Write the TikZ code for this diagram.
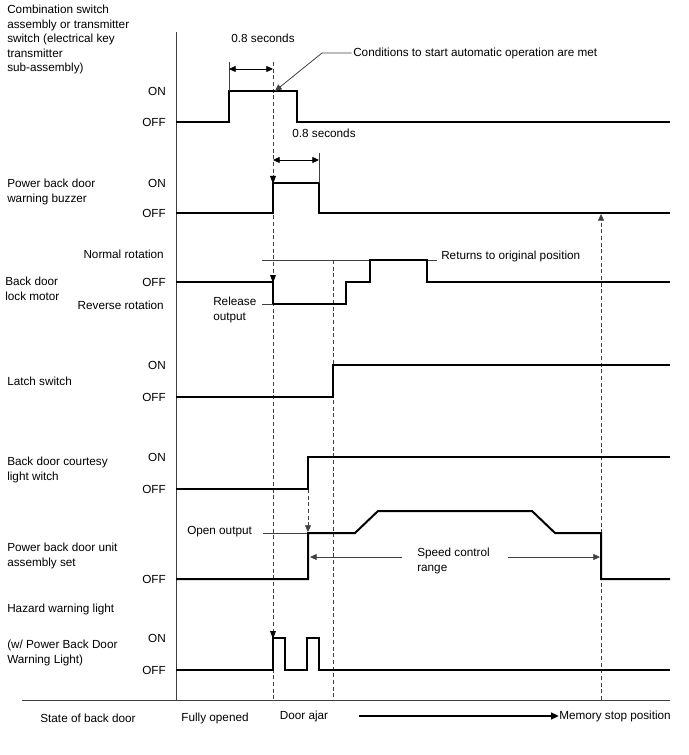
\documentclass[tikz,border=0pt]{standalone}
\usepackage{fontspec}
\setmainfont{Liberation Sans}
\usetikzlibrary{arrows.meta}
\begin{document}
\begin{tikzpicture}[x=0.75pt,y=-0.75pt,
  font=\fontsize{8.8}{10.9}\selectfont,
  sig/.style={line width=1.5pt, line join=miter},
  fine/.style={line width=0.6pt, black!75},
  guide/.style={line width=0.6pt, dash pattern=on 3pt off 2pt, black!75},
  tipd/.style={-{Triangle[length=5pt,width=4.5pt]}},
  dimarrow/.style={{Triangle[length=5pt,width=4.5pt]}-{Triangle[length=5pt,width=4.5pt]}, line width=0.6pt},
  lab/.style={anchor=west, align=left, inner sep=0pt},
  lvl/.style={anchor=east, inner sep=0pt}]
\useasboundingbox (0,0) rectangle (688,755);

% axes
\coordinate (axT) at (176,32);
\coordinate (axB) at (176,700);
\coordinate (baseL) at (22,700);
\coordinate (baseR) at (670,700);
\draw[fine] (axT) -- (axB);
\draw[fine] (baseL) -- (baseR);

% dashed guides
\coordinate (g1t) at (273,62);   \coordinate (g1b) at (273,700);
\coordinate (g2t) at (333,260);  \coordinate (g2b) at (333,700);
\coordinate (g3t) at (601,215);  \coordinate (g3b) at (601,700);
\draw[guide] (g1t) -- (g1b);
\draw[guide] (g2t) -- (g2b);
\draw[guide] (g3b) -- (g3t);
\draw[guide,tipd] (601,240) -- (601,214);
\draw[guide,tipd] (308,489) -- (308,532);
\fill (270,176) -- (276,176) -- (273,184) -- cycle;
\fill (270,275) -- (276,275) -- (273,283) -- cycle;
\fill (270,631) -- (276,631) -- (273,639) -- cycle;

% left labels
\node[lab, anchor=north west] (l1) at (7,5) {Combination switch\\assembly or transmitter\\switch (electrical key\\transmitter\\sub-assembly)};
\node[lab] (l2) at (7,192) {Power back door\\warning buzzer};
\node[lab] (l3) at (5,289) {Back door\\lock motor};
\node[lab] (l4) at (7,381) {Latch switch};
\node[lab] (l5) at (7,470) {Back door courtesy\\light witch};
\node[lab] (l6) at (7,556) {Power back door unit\\assembly set};
\node[lab] (l7) at (7,609) {Hazard warning light};
\node[lab] (l7b) at (7,653) {(w/ Power Back Door\\Warning Light)};

% level labels
\node[lvl] (on1) at (166,91) {ON};
\node[lvl] (off1) at (166,122) {OFF};
\node[lvl] (on2) at (166,183) {ON};
\node[lvl] (off2) at (166,213) {OFF};
\node[lvl] (nr3) at (164,254) {Normal rotation};
\node[lvl] (off3) at (166,282) {OFF};
\node[lvl] (rr3) at (164,305) {Reverse rotation};
\node[lvl] (on4) at (166,365) {ON};
\node[lvl] (off4) at (166,397) {OFF};
\node[lvl] (on5) at (166,457) {ON};
\node[lvl] (off5) at (166,489) {OFF};
\node[lvl] (off6) at (166,579) {OFF};
\node[lvl] (on7) at (166,638) {ON};
\node[lvl] (off7) at (166,670) {OFF};

% signal 1
\draw[sig] (176,122) -| (229,91) -| (297,122) -- (670,122);
\coordinate (t1a) at (229,62);
\coordinate (t1b) at (229,91);
\draw[fine] (t1a) -- (t1b);
\draw[dimarrow] (229,69) -- (273,69);
\node (s1) at (263,38) {0.8 seconds};
\node[lab] (cond) at (353,53) {Conditions to start automatic operation are met};
\coordinate (c1) at (322,53);
\coordinate (c2) at (275,91);
\draw[fine,tipd] ([xshift=-1pt]cond.west) -- (c1) -- (c2);

% signal 2
\draw[sig] (176,213) -| (273,183) -| (319,213) -- (670,213);
\coordinate (t2a) at (319,153);
\coordinate (t2b) at (319,183);
\draw[fine] (t2a) -- (t2b);
\draw[dimarrow] (273,160) -- (319,160);
\node (s2) at (324,133) {0.8 seconds};

% signal 3
\draw[fine] (262,260) -- (437,260);
\node[lab] (ret) at (441,256) {Returns to original position};
\draw[sig] (176,282) -| (273,304) -| (346,282) -| (370,260) -| (427,282) -- (670,282);
\node[lab, anchor=north west] (rel) at (213,297) {Release\\output};
\draw[fine] (262,304) -- (273,304);

% signal 4
\draw[sig] (176,397) -| (333,365) -- (670,365);

% signal 5
\draw[sig] (176,489) -| (308,457) -- (670,457);

% signal 6
\node[lab] (open) at (187,532) {Open output};
\draw[fine] (263,533) -- (308,533);
\draw[sig] (176,579) -| (308,533) -- (355,533) -- (378,511) -- (532,511) -- (555,533) -- (601,533) |- (670,579);
\node[lab, anchor=north west] (spd) at (417,548) {Speed control\\range};
\draw[fine,tipd] (402,557) -- (310,557);
\draw[fine,tipd] (508,557) -- (600,557);

% signal 7
\draw[sig] (176,670) -| (273,638) -| (285,670) -| (307,638) -| (319,670) -- (670,670);

% bottom row
\node (st) at (88,718) {State of back door};
\node (fo) at (215,718) {Fully opened};
\node (da) at (304,716) {Door ajar};
\node[lab] (mem) at (559,716) {Memory stop position};
\draw[line width=1.8pt, -{Triangle[length=6pt,width=5pt]}] (359,716) -- (mem.west);
\end{tikzpicture}
\end{document}
